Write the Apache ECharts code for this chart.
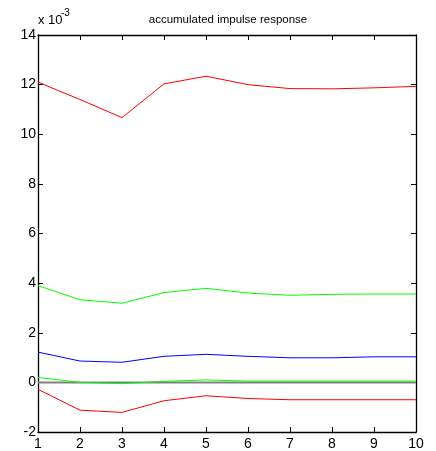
<!DOCTYPE html>
<html>
<head>
<meta charset="utf-8">
<script src="https://cdn.jsdelivr.net/npm/echarts@6/dist/echarts.min.js"></script>
<style>
  html, body { margin: 0; padding: 0; background: #fff; }
  #chart { width: 436px; height: 451px; }
</style>
</head>
<body>
<div id="chart"></div>
<script>
// horizon steps
var steps = [1, 2, 3, 4, 5, 6, 7, 8, 9, 10];
// values are in units of 1e-3
var upperRed = [12.1, 11.4, 10.67, 12.03, 12.34, 12.0, 11.84, 11.83, 11.87, 11.93];
var upperGreen = [3.9, 3.33, 3.19, 3.62, 3.79, 3.6, 3.51, 3.55, 3.56, 3.56];
var blueLine = [1.22, 0.86, 0.81, 1.05, 1.13, 1.05, 0.99, 0.99, 1.03, 1.03];
var lowerGreen = [0.2, 0.0, -0.05, 0.04, 0.1, 0.05, 0.05, 0.05, 0.05, 0.05];
var lowerRed = [-0.28, -1.12, -1.21, -0.74, -0.54, -0.65, -0.7, -0.7, -0.7, -0.7];
var zeroLine = [0, 0, 0, 0, 0, 0, 0, 0, 0, 0];
var yTicks = [-2, 0, 2, 4, 6, 8, 10, 12, 14];

var chart = echarts.init(document.getElementById('chart'));

function pairs(vals) {
  return steps.map(function (s, i) { return [s, vals[i]]; });
}

function lineSeries(vals, color, width) {
  return {
    type: 'line',
    data: pairs(vals),
    symbol: 'none',
    silent: true,
    animation: false,
    lineStyle: { color: color, width: width || 1 }
  };
}

var labelFont = { color: '#000', fontFamily: 'Liberation Sans, Arial, sans-serif', fontSize: 14 };
var axisLine = { show: true, onZero: false, lineStyle: { color: '#000', width: 1.3 } };
var tick = { show: true, inside: true, length: 5, lineStyle: { color: '#000', width: 1 } };

var option = {
  backgroundColor: '#fff',
  animation: false,
  title: {
    text: 'accumulated impulse response',
    left: 223,
    top: 9,
    textAlign: 'center',
    textStyle: { fontFamily: 'Liberation Sans Narrow, Arial Narrow, sans-serif', fontSize: 11.5, fontWeight: 'normal', color: '#000' }
  },
  graphic: [
    { type: 'text', left: 38, top: 14, style: { text: 'x 10', fontFamily: 'Liberation Sans, Arial, sans-serif', fontSize: 13, fill: '#000' } },
    { type: 'text', left: 61, top: 8, style: { text: '-3', fontFamily: 'Liberation Sans, Arial, sans-serif', fontSize: 10, fill: '#000' } }
  ],
  grid: { left: 38, right: 20, top: 35, bottom: 18 },
  xAxis: [
    {
      type: 'value', min: steps[0], max: steps[steps.length - 1], interval: 1,
      axisLine: axisLine, axisTick: tick, splitLine: { show: false },
      axisLabel: Object.assign({ margin: 5 }, labelFont)
    },
    {
      type: 'value', position: 'top', min: steps[0], max: steps[steps.length - 1], interval: 1,
      axisLine: axisLine, axisTick: tick, splitLine: { show: false }, axisLabel: { show: false }
    }
  ],
  yAxis: [
    {
      type: 'value', min: yTicks[0], max: yTicks[yTicks.length - 1], interval: 2,
      axisLine: axisLine, axisTick: tick, splitLine: { show: false },
      axisLabel: Object.assign({ margin: 2 }, labelFont)
    },
    {
      type: 'value', position: 'right', min: yTicks[0], max: yTicks[yTicks.length - 1], interval: 2,
      axisLine: axisLine, axisTick: tick, splitLine: { show: false }, axisLabel: { show: false }
    }
  ],
  series: [
    lineSeries(zeroLine, '#808080', 2),
    lineSeries(upperRed, '#ff0000'),
    lineSeries(upperGreen, '#00ff00'),
    lineSeries(blueLine, '#0000ff'),
    lineSeries(lowerGreen, '#00ff00'),
    lineSeries(lowerRed, '#ff0000')
  ]
};

chart.setOption(option);
</script>
</body>
</html>
